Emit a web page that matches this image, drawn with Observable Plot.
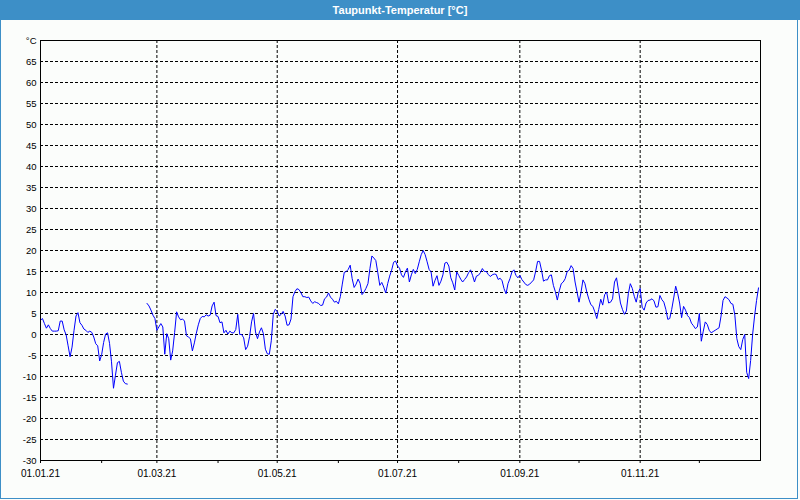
<!DOCTYPE html>
<html><head><meta charset="utf-8">
<script src="https://cdn.jsdelivr.net/npm/d3@7"></script>
<script src="https://cdn.jsdelivr.net/npm/@observablehq/plot@0.6"></script>
<style>
html,body{margin:0;padding:0;background:#fbfdfb;}
#win{position:relative;width:800px;height:500px;overflow:hidden;background:#fbfdfb;}
#title{position:absolute;left:0;top:0;width:800px;height:20px;background:#3d8fc7;color:#fff;font:bold 11px "Liberation Sans",sans-serif;text-align:center;line-height:20px;}
#chart{position:absolute;left:0;top:20px;}
#border{position:absolute;left:0;top:0;width:798px;height:499px;box-sizing:border-box;border:1px solid #3d8fc7;border-top:none;pointer-events:none;}
</style>
</head><body>
<div id="win">
  <div id="title">Taupunkt-Temperatur [°C]</div>
  <div id="chart"></div>
  <div id="border"></div>
</div>
<script>
// Daily dew point values from 01.01.21 (index 0) to 31.12.21 (index 364); null = no data
const startYear = 2021;
const dewPoint = [
  3.4,3.8,2.6,1.5,2.3,1.4,0.8,0.8,0.8,0.9,
  3.2,3.2,1.1,-0.1,-2.7,-5.3,-3.0,1.0,4.4,5.2,
  2.8,2.2,1.3,1.0,0.5,0.8,0.5,-0.6,-2.2,-2.7,
  -6.3,-4.8,-1.9,0.1,0.4,-2.1,-6.5,-12.8,-9.7,-6.7,
  -6.4,-9.0,-11.1,-11.7,-11.8,null,null,null,null,null,
  null,null,null,null,7.4,6.8,5.8,4.6,3.8,1.0,
  1.8,2.6,1.8,-4.7,0.2,-1.0,-6.1,-3.9,0.5,5.4,
  4.2,3.5,3.7,3.2,-0.3,-0.6,-1.0,-3.9,-2.0,0.3,
  2.3,3.8,4.3,4.2,4.7,4.4,4.6,6.8,7.7,4.5,
  4.3,2.8,3.0,0.4,1.0,0.1,0.8,0.4,0.4,1.2,
  4.8,0.0,0.0,-0.8,-3.6,-2.8,-0.5,3.0,5.0,0.6,
  -1.0,0.6,1.6,0.2,-3.5,-4.6,-4.7,-1.5,4.8,6.0,
  5.5,4.4,4.8,5.5,4.4,2.2,2.3,3.7,9.0,10.2,
  10.9,10.7,10.0,9.0,9.0,8.8,8.9,8.0,7.4,7.8,
  7.6,7.4,6.9,7.0,8.5,8.9,9.9,8.9,8.4,7.7,
  7.9,7.3,9.0,12.0,14.8,15.0,15.5,16.5,13.3,11.2,
  12.0,13.2,12.2,9.5,10.1,11.0,12.1,15.7,18.7,18.2,
  17.6,14.7,11.7,12.4,11.3,9.9,12.1,13.9,15.3,17.2,
  17.5,16.3,15.8,14.2,13.6,14.9,15.8,12.5,14.2,15.5,
  14.5,15.5,17.3,19.0,20.0,19.0,17.3,15.5,14.9,11.5,
  12.9,14.0,11.7,12.7,14.2,17.0,17.2,16.3,13.5,12.3,
  10.6,14.9,14.1,13.2,12.5,13.1,13.7,14.7,15.4,14.1,
  12.5,13.9,14.1,14.7,15.7,15.0,15.0,14.3,13.8,14.2,
  14.4,14.3,13.1,13.4,12.8,10.9,9.7,12.1,13.3,14.9,
  15.4,14.1,13.5,14.1,13.1,12.5,11.9,11.7,12.0,12.5,
  13.0,15.0,17.4,17.4,15.3,12.7,13.0,13.0,14.0,14.2,
  11.7,10.2,8.2,10.4,12.1,12.5,13.3,15.0,15.3,16.4,
  15.7,12.5,10.1,7.7,10.0,13.0,12.1,10.0,8.4,7.1,
  6.7,5.4,3.8,6.0,8.4,7.0,9.5,10.1,7.5,7.7,
  8.5,12.5,13.5,10.5,7.5,6.0,4.8,5.6,9.7,12.1,
  11.0,9.1,7.7,10.0,11.0,6.5,5.8,7.5,8.1,8.2,
  8.5,8.0,6.5,6.6,9.3,8.3,7.7,6.0,3.6,3.8,
  6.0,8.7,11.5,9.8,7.5,4.0,6.7,5.8,4.5,4.0,
  2.7,2.1,1.4,1.8,5.0,-1.6,0.8,3.0,2.4,1.0,
  0.4,0.7,1.0,1.3,1.6,4.4,8.1,9.0,8.7,8.3,
  7.4,7.2,4.6,-1.0,-2.9,-3.6,-1.2,0.0,-9.0,-10.5,
  -6.2,0.0,4.4,8.1,11.1
];
const yTicks = d3.range(-30, 71, 5);      // -30 ... 70 (70 shows "°C")
const yGrid = d3.range(-25, 66, 5);
const monthTicks = d3.range(0, 12).map(m => new Date(Date.UTC(startYear, m, 1)));
const labelMonths = [0, 2, 4, 6, 8, 10];
const gridMonths = [2, 4, 6, 8, 10];

const data = dewPoint.map((v, i) => ({date: new Date(Date.UTC(startYear, 0, 1 + i)), value: v}));
const fmt = d3.utcFormat("%d.%m.%y");

const chart = Plot.plot({
  width: 800, height: 480,
  marginTop: 20, marginLeft: 40, marginRight: 40, marginBottom: 40,
  style: {background: "transparent", fontFamily: "'Liberation Sans', sans-serif", fontSize: "9.5px", color: "#000", overflow: "visible"},
  x: {type: "utc", domain: [new Date(Date.UTC(startYear, 0, 1)), new Date(Date.UTC(startYear + 1, 0, 1))]},
  y: {domain: [-30, 70]},
  marks: [
    Plot.ruleY(yGrid, {stroke: "#000", strokeWidth: 1, strokeDasharray: "3,2"}),
    Plot.ruleX(gridMonths.map(m => monthTicks[m]), {stroke: "#000", strokeWidth: 1, strokeDasharray: "3,2"}),
    Plot.line(data, {x: "date", y: "value", stroke: "#0000ff", strokeWidth: 1}),
    Plot.frame({stroke: "#000", strokeWidth: 1}),
    Plot.axisY({ticks: yTicks, tickSize: 0, tickPadding: 4, tickFormat: d => d === 70 ? "°C" : String(d), label: null}),
    Plot.axisX({ticks: monthTicks, tickSize: 3, tickPadding: 6, label: null,
      tickFormat: d => labelMonths.includes(d.getUTCMonth()) ? fmt(d) : "", fontSize: "10px"})
  ]
});
document.getElementById("chart").appendChild(chart);
</script>
</body></html>
